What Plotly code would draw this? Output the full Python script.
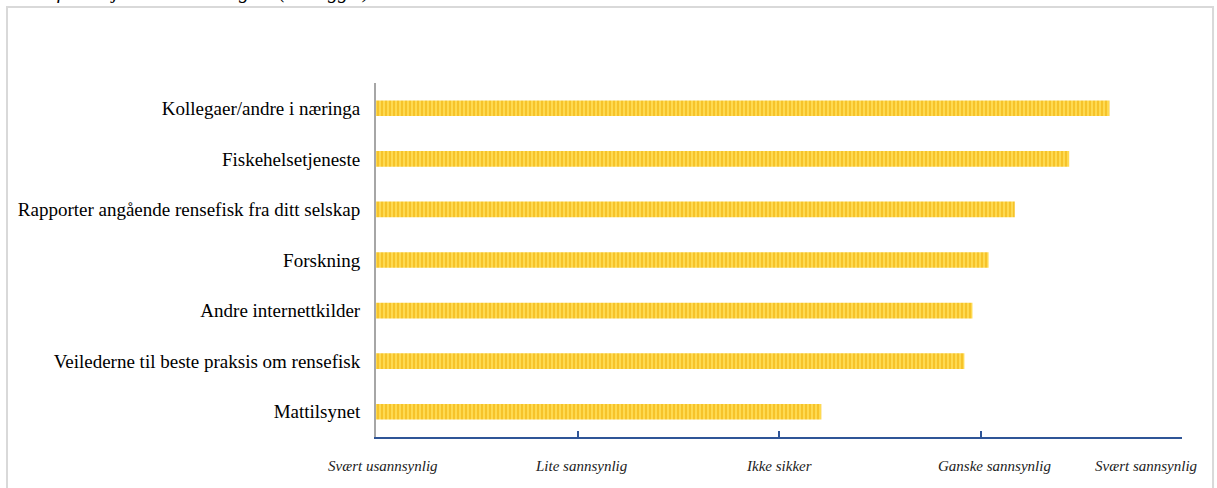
import plotly.graph_objects as go

categories = [
    "Kollegaer/andre i næringa",
    "Fiskehelsetjeneste",
    "Rapporter angående rensefisk fra ditt selskap",
    "Forskning",
    "Andre internettkilder",
    "Veilederne til beste praksis om rensefisk",
    "Mattilsynet",
]
values = [4.64, 4.44, 4.17, 4.04, 3.96, 3.92, 3.21]
tick_vals = [1, 2, 3, 4, 5]
tick_labels = ["Svært usannsynlig", "Lite sannsynlig", "Ikke sikker",
               "Ganske sannsynlig", "Svært sannsynlig"]
top_note = "Mer informasjon i tabell 15 og 16 (vedlegg 2)."

SERIF = "Liberation Serif, Times New Roman, serif"

fig = go.Figure()
fig.add_trace(go.Bar(
    y=categories,
    x=[v - 1 for v in values],
    base=1,
    orientation="h",
    width=0.31,
    marker=dict(
        color="#FFD640",
        line=dict(width=0),
        pattern=dict(shape="|", fgcolor="#EDAA00", bgcolor="#FFDC55",
                     size=4, solidity=0.55, fillmode="overlay"),
    ),
    hoverinfo="skip",
))

# x tick labels as annotations so the last one can be kept inside the page
label_shifts = [7, 4, 0, 14, -36]
tick_annotations = []
for tv, tl, sh in zip(tick_vals, tick_labels, label_shifts):
    tick_annotations.append(dict(
        text=tl, xref="x", yref="paper", x=tv, y=-0.055,
        xanchor="center", yanchor="top", showarrow=False, xshift=sh,
        font=dict(family=SERIF, size=15, color="#222222", style="italic"),
    ))

fig.update_layout(
    width=1217, height=488,
    margin=dict(l=376, r=35, t=83, b=51),
    paper_bgcolor="white", plot_bgcolor="white",
    showlegend=False,
    font=dict(family=SERIF, color="#000000"),
    xaxis=dict(
        range=[1, 5], tickvals=tick_vals, showticklabels=False,
        showgrid=False, zeroline=False,
        showline=True, linecolor="#2F5597", linewidth=2,
        ticks="inside", ticklen=6, tickwidth=2, tickcolor="#2F5597",
    ),
    yaxis=dict(
        categoryorder="array", categoryarray=categories[::-1],
        range=[-0.5, 6.5],
        showgrid=False, zeroline=False,
        showline=True, linecolor="#A6A6A6", linewidth=2,
        ticks="", ticklabelstandoff=10,
        tickfont=dict(family=SERIF, size=19, color="#000000"),
    ),
    shapes=[dict(
        type="rect", xref="paper", yref="paper",
        x0=-0.4578, x1=1.0385, y0=-0.3, y1=1.2147,
        line=dict(color="#D9D9D9", width=2), fillcolor="rgba(0,0,0,0)",
        layer="below",
    )],
    annotations=[dict(
        text=top_note, xref="paper", yref="paper",
        x=-0.4665, y=1.258, xanchor="left", yanchor="middle",
        showarrow=False,
        font=dict(family=SERIF, size=20, color="#000000", style="italic"),
    )] + tick_annotations,
)

fig.write_html("out.html")
